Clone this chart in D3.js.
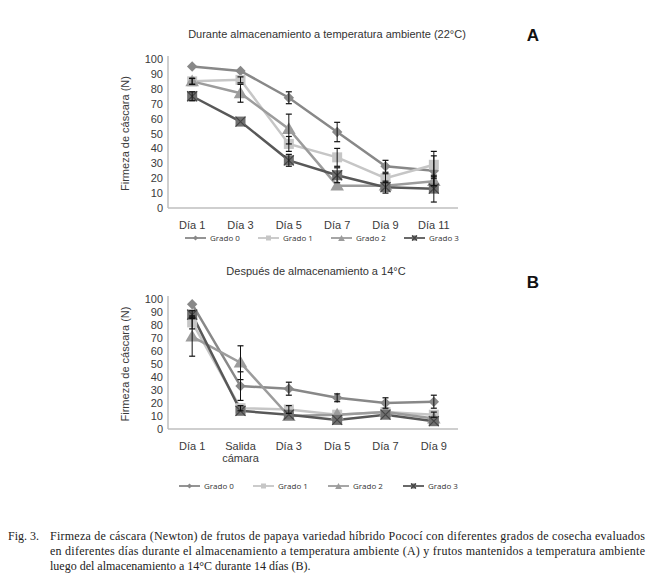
<!DOCTYPE html>
<html>
<head>
<meta charset="utf-8">
<script src="https://cdn.jsdelivr.net/npm/d3@7"></script>
<style>
  body { margin: 0; background: #fff; }
  svg { display: block; }
</style>
</head>
<body>
<svg width="660" height="586"></svg>
<script>
// panel A: during storage at ambient temperature
let catsA = ['Día 1', 'Día 3', 'Día 5', 'Día 7', 'Día 9', 'Día 11'];
let g0A = [95, 92, 74, 51, 28, 25];
let g1A = [85, 86, 43, 34, 20, 29];
let g2A = [85, 77, 53, 15, 15, 18];
let g3A = [75, 58, 32, 22, 14, 13];
let e0A = [1, 1, 4, 6.5, 4, 10];
let e1A = [2, 2, 5, 6, 3, 9];
let e2A = [2, 6, 10, 1, 1, 3];
let e3A = [3, 1, 4, 5, 4, 9];

// panel B: after storage at 14°C
let catsB = ['Día 1', 'Salida\ncámara', 'Día 3', 'Día 5', 'Día 7', 'Día 9'];
let g0B = [96, 33, 31, 24, 20, 21];
let g1B = [82, 16, 15, 11, 13, 11];
let g2B = [71, 51, 10, 11, 13, 8];
let g3B = [88, 14, 11, 7, 11, 6];
let e0B = [1, 11, 5, 3, 4, 5];
let e1B = [5, 2, 3, 1, 1, 2];
let e2B = [15, 13, 1, 1, 1, 1];
let e3B = [3, 1, 1, 1, 1, 1];

let seriesNames = ['Grado 0', 'Grado 1', 'Grado 2', 'Grado 3'];
let yTicks = [0, 10, 20, 30, 40, 50, 60, 70, 80, 90, 100];

let colors = ['#888888', '#c6c6c6', '#9c9c9c', '#585858'];
let shapes = ['diamond', 'square', 'triangle', 'xsquare'];

let svg = d3.select('svg');

function marker(g, shape, color, cx, cy, s) {
    if (shape == 'diamond') {
        let r = s * 0.52;
        g.append('path').attr('d', `M${cx},${cy - r}L${cx + r},${cy}L${cx},${cy + r}L${cx - r},${cy}Z`)
            .attr('fill', color);
    } else if (shape == 'square') {
        g.append('rect').attr('x', cx - s / 2).attr('y', cy - s / 2)
            .attr('width', s).attr('height', s).attr('fill', color);
    } else if (shape == 'triangle') {
        g.append('path').attr('d', d3.symbol(d3.symbolTriangle, s * s * 0.8)())
            .attr('transform', `translate(${cx},${cy + 1})`).attr('fill', color);
    } else {
        g.append('rect').attr('x', cx - s / 2).attr('y', cy - s / 2)
            .attr('width', s).attr('height', s).attr('fill', '#707070');
        g.append('path')
            .attr('d', `M${cx - s / 2},${cy - s / 2}L${cx + s / 2},${cy + s / 2}M${cx + s / 2},${cy - s / 2}L${cx - s / 2},${cy + s / 2}`)
            .attr('stroke', '#454545').attr('stroke-width', 1.2);
    }
}

function panel(opt) {
    let g = svg.append('g');
    let x = d3.scaleBand().domain(opt.cats).range([168, 458]);
    let y = d3.scaleLinear().domain([0, 100]).range([opt.y0, opt.y100]);
    let cx = c => x(c) + x.bandwidth() / 2;

    // axes
    g.append('line').attr('x1', 168).attr('x2', 168).attr('y1', y(100) - 3).attr('y2', y(0))
        .attr('stroke', '#bfbfbf').attr('stroke-width', 1.5);
    g.append('line').attr('x1', 168).attr('x2', 458).attr('y1', y(0)).attr('y2', y(0))
        .attr('stroke', '#bfbfbf').attr('stroke-width', 1.5);

    g.selectAll('.yt').data(yTicks).enter().append('text')
        .attr('x', 163).attr('y', d => y(d) + 4)
        .attr('text-anchor', 'end')
        .style('font', '11px "Liberation Sans", Arial, sans-serif')
        .attr('fill', '#3a3a3a').text(d => d);

    opt.cats.forEach(c => {
        let lines = c.split('\n');
        lines.forEach((t, i) => {
            g.append('text').attr('x', cx(c)).attr('y', opt.y0 + 21 + i * 12)
                .attr('text-anchor', 'middle')
                .style('font', '11px "Liberation Sans", Arial, sans-serif')
                .attr('fill', '#3a3a3a').text(t);
        });
    });

    g.append('text')
        .attr('transform', `translate(129,${(y(0) + y(100)) / 2}) rotate(-90)`)
        .attr('text-anchor', 'middle')
        .style('font', '11px "Liberation Sans", Arial, sans-serif')
        .attr('fill', '#3a3a3a').text('Firmeza de cáscara (N)');

    g.append('text').attr('x', opt.titleX).attr('y', opt.titleY)
        .attr('text-anchor', 'middle')
        .style('font', '11px "Liberation Sans", Arial, sans-serif')
        .attr('fill', '#333').text(opt.title);
    g.append('text').attr('x', 533).attr('y', opt.letterY)
        .attr('text-anchor', 'middle')
        .style('font', 'bold 17px "Liberation Sans", Arial, sans-serif')
        .attr('fill', '#111').text(opt.letter);

    let line = d3.line().x((d, i) => cx(opt.cats[i])).y(d => y(d));

    // lines
    opt.series.forEach((s, k) => {
        g.append('path').datum(s).attr('d', line)
            .attr('fill', 'none').attr('stroke', colors[k]).attr('stroke-width', 2.5);
    });
    // markers
    opt.series.forEach((s, k) => {
        s.forEach((v, i) => marker(g, shapes[k], colors[k], cx(opt.cats[i]), y(v), 10));
    });
    // error bars
    opt.series.forEach((s, k) => {
        s.forEach((v, i) => {
            let e = opt.errs[k][i];
            if (e < 1.5) return;
            let xx = cx(opt.cats[i]);
            g.append('line').attr('x1', xx).attr('x2', xx).attr('y1', y(v - e)).attr('y2', y(v + e))
                .attr('stroke', '#111').attr('stroke-width', 1);
            [v - e, v + e].forEach(w => {
                g.append('line').attr('x1', xx - 3).attr('x2', xx + 3).attr('y1', y(w)).attr('y2', y(w))
                    .attr('stroke', '#111').attr('stroke-width', 1.2);
            });
        });
    });

    // legend
    opt.legendX.forEach((lx, k) => {
        let ly = opt.legendY;
        g.append('line').attr('x1', lx).attr('x2', lx + 21).attr('y1', ly).attr('y2', ly)
            .attr('stroke', colors[k]).attr('stroke-width', 1.8);
        marker(g, shapes[k], colors[k], lx + 10.5, ly, 5);
        g.append('text').attr('x', lx + 25).attr('y', ly + 3)
            .style('font', '8px "Open Sans", "Noto Sans", sans-serif')
            .attr('fill', '#333').text(seriesNames[k]);
    });
}

panel({
    cats: catsA, series: [g0A, g1A, g2A, g3A], errs: [e0A, e1A, e2A, e3A],
    y0: 208, y100: 59,
    title: 'Durante almacenamiento a temperatura ambiente (22°C)', titleX: 327, titleY: 38,
    letter: 'A', letterY: 41,
    legendX: [185, 258, 331, 404], legendY: 238
});

panel({
    cats: catsB, series: [g0B, g1B, g2B, g3B], errs: [e0B, e1B, e2B, e3B],
    y0: 429, y100: 299,
    title: 'Después de almacenamiento a 14°C', titleX: 316, titleY: 275,
    letter: 'B', letterY: 288,
    legendX: [179, 253, 328, 403], legendY: 486
});

// caption
let cap = svg.append('g').style('font', '12px "Liberation Serif", "Times New Roman", serif').attr('fill', '#222');
cap.append('text').attr('x', 8).attr('y', 540).text('Fig. 3.');
let capLines = [
    'Firmeza de cáscara (Newton) de frutos de papaya variedad híbrido Pococí con diferentes grados de cosecha evaluados',
    'en diferentes días durante el almacenamiento a temperatura ambiente (A) y frutos mantenidos a temperatura ambiente',
    'luego del almacenamiento a 14°C durante 14 días (B).'
];
capLines.forEach((t, i) => {
    let tx = cap.append('text').attr('x', 50).attr('y', 540 + i * 15).text(t);
    if (i < 2) tx.attr('textLength', 595).attr('lengthAdjust', 'spacing');
});
</script>
</body>
</html>
